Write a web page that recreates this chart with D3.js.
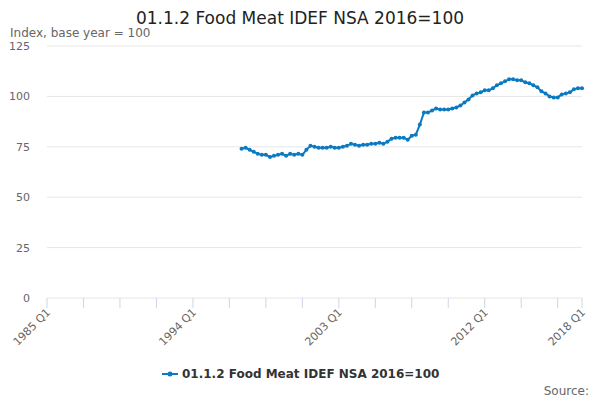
<!DOCTYPE html>
<html><head><meta charset="utf-8">
<script src="https://cdn.jsdelivr.net/npm/d3@7"></script>
<style>body{margin:0;font-family:"DejaVu Sans",sans-serif;}</style>
</head><body><svg id="c" width="600" height="400"></svg>
<script>
const startYear = 1997;
const values = [74, 74.5, 73.5, 72.5, 71.5, 71, 71, 70, 70.5, 71, 71.5, 70.5, 71.5, 71, 71.5, 71,
  73.5, 75.5, 75, 74.5, 74.5, 74.5, 75, 74.5, 74.5, 75, 75.5, 76.5, 76, 75.5, 76, 76,
  76.5, 76.5, 77, 76.5, 77.5, 79, 79.5, 79.5, 79.5, 78.5, 80.5, 81, 86, 92, 92, 93,
  94, 93.5, 93.5, 93.5, 94, 94.5, 95.5, 97, 98.5, 100.5, 101.5, 102, 103, 103, 104, 105.5,
  106.5, 107.5, 108.5, 108.5, 108, 108, 107, 106.5, 105.5, 104.5, 102.5, 101.5, 100, 99.5, 99.5, 101,
  101.5, 102, 103.5, 104, 104];
const yTicks = [0, 25, 50, 75, 100, 125];
const xLabelIdx = [0, 36, 72, 108, 132]; // quarters since 1985 Q1
const seriesName = "01.1.2 Food Meat IDEF NSA 2016=100";

const svg = d3.select("#c");
const x = d3.scaleLinear().domain([0, 132]).range([47, 582]);
const y = d3.scaleLinear().domain([0, 125]).range([298, 46]);
const data = values.map((v, i) => ({q: (startYear - 1985) * 4 + i, v}));
const qLabel = q => (1985 + Math.floor(q / 4)) + " Q" + (q % 4 + 1);

svg.append("text").attr("x", 300).attr("y", 24).attr("text-anchor", "middle")
  .attr("font-size", 17).attr("fill", "#222").text(seriesName);
svg.append("text").attr("x", 10).attr("y", 37).attr("font-size", 12).attr("fill", "#666")
  .text("Index, base year = 100");

svg.append("g").selectAll("line").data(yTicks).join("line")
  .attr("x1", 47).attr("x2", 582).attr("y1", d => y(d)).attr("y2", d => y(d))
  .attr("stroke", "#e6e6e6");
svg.append("g").selectAll("text").data(yTicks).join("text")
  .attr("x", 30).attr("y", d => y(d) + 4).attr("text-anchor", "end")
  .attr("font-size", 11).attr("fill", "#666").text(d => d);

const tickIdx = d3.range(0, 132, 9).concat([132]);
svg.append("g").selectAll("line").data(tickIdx).join("line")
  .attr("x1", d => x(d)).attr("x2", d => x(d)).attr("y1", 298).attr("y2", 308)
  .attr("stroke", "#ccd6eb");
svg.append("g").selectAll("text").data(xLabelIdx).join("text")
  .attr("text-anchor", "end").attr("font-size", 11).attr("fill", "#666")
  .attr("transform", d => `translate(${x(d) + 4},${313}) rotate(-45)`)
  .text(d => qLabel(d));

const line = d3.line().x(d => x(d.q)).y(d => y(d.v));
svg.append("path").datum(data).attr("d", line).attr("fill", "none")
  .attr("stroke", "#0b7ac0").attr("stroke-width", 2);
svg.append("g").selectAll("circle").data(data).join("circle")
  .attr("cx", d => x(d.q)).attr("cy", d => y(d.v)).attr("r", 2)
  .attr("fill", "#0b7ac0");

const lg = svg.append("g").attr("transform", "translate(162,374)");
lg.append("line").attr("x1", 0).attr("x2", 16).attr("stroke", "#0b7ac0").attr("stroke-width", 2);
lg.append("circle").attr("cx", 8).attr("r", 2.5).attr("fill", "#0b7ac0");
lg.append("text").attr("x", 20).attr("y", 4).attr("font-size", 12).attr("font-weight", "bold")
  .attr("fill", "#333").text(seriesName);

svg.append("text").attr("x", 589).attr("y", 395).attr("text-anchor", "end")
  .attr("font-size", 12).attr("fill", "#666").text("Source:");
</script></body></html>
